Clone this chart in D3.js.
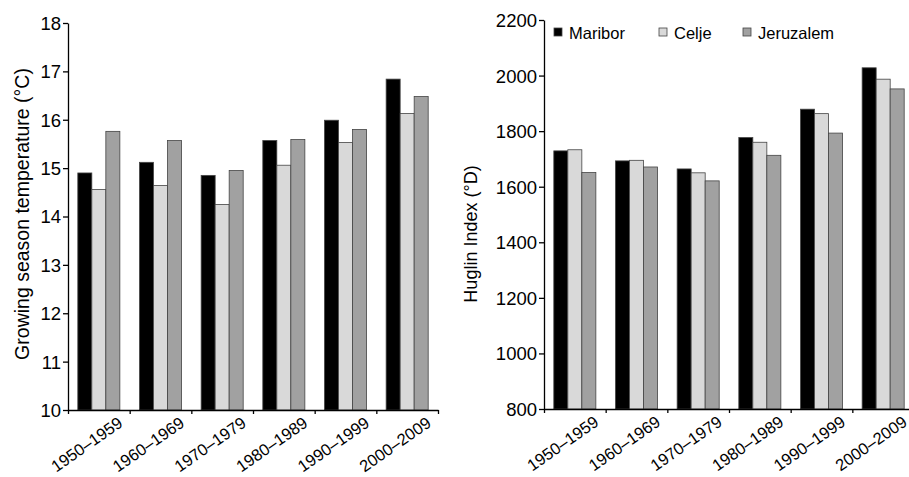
<!DOCTYPE html>
<html>
<head>
<meta charset="utf-8">
<script src="https://cdn.jsdelivr.net/npm/d3@7.9.0/dist/d3.min.js"></script>
<style>
  html, body { margin: 0; padding: 0; background: #fff; }
  svg { display: block; font-family: "Liberation Sans", Arial, sans-serif; }
</style>
</head>
<body>
<svg id="viz" width="909" height="477"></svg>
<script>
const decades = ["1950–1959", "1960–1969", "1970–1979", "1980–1989", "1990–1999", "2000–2009"];
const stations = ["Maribor", "Celje", "Jeruzalem"];
const colors = ["#000000", "#d9d9d9", "#a1a1a1"];

// growing season temperature (°C)
const tempMaribor = [14.90, 15.12, 14.85, 15.57, 15.99, 16.84];
const tempCelje = [14.56, 14.64, 14.25, 15.06, 15.53, 16.13];
const tempJeruzalem = [15.76, 15.57, 14.95, 15.59, 15.80, 16.48];

// Huglin index (°D)
const huglinMaribor = [1729, 1693, 1664, 1777, 1879, 2028];
const huglinCelje = [1733, 1695, 1650, 1760, 1863, 1987];
const huglinJeruzalem = [1651, 1671, 1621, 1713, 1793, 1952];

const tempTicks = d3.range(10, 18.01, 1);
const huglinTicks = d3.range(800, 2201, 200);

const svg = d3.select("#viz");

function panel(opts) {
  const { left, top, bottom, width, domain, ticks, series, title, titleX, titleY, titleSize } = opts;
  const g = svg.append("g");

  const x0 = d3.scaleBand().domain(decades).range([left, left + width]).padding(0);
  const x1 = d3.scaleBand().domain(stations).range([0, x0.bandwidth()]).paddingOuter(0.7).paddingInner(0);
  const y = d3.scaleLinear().domain(domain).range([bottom, top]);

  // bars
  const rows = decades.map((d, i) => ({ decade: d, vals: series.map((s) => s[i]) }));
  g.append("g")
    .selectAll("g")
    .data(rows)
    .join("g")
    .attr("transform", (d) => `translate(${x0(d.decade)},0)`)
    .selectAll("rect")
    .data((d) => d.vals.map((v, k) => ({ k, v })))
    .join("rect")
    .attr("x", (d) => x1(stations[d.k]))
    .attr("width", x1.bandwidth())
    .attr("y", (d) => y(d.v))
    .attr("height", (d) => bottom - y(d.v))
    .attr("fill", (d) => colors[d.k])
    .attr("stroke", "#444")
    .attr("stroke-width", 0.8);

  // y axis
  const ya = g.append("g")
    .attr("transform", `translate(${left},0)`)
    .call(d3.axisLeft(y).tickValues(ticks).tickFormat(d3.format("d"))
      .tickSize(5).tickSizeOuter(0).tickPadding(2));
  ya.attr("font-family", null).attr("font-size", null);
  ya.selectAll("text").attr("font-size", 18.5).attr("fill", "#000").attr("dy", "0.35em");
  ya.selectAll("line, path").attr("stroke", "#000").attr("stroke-width", 1.3);

  // x axis, ticks sit on the band edges
  const edge = d3.scaleLinear().domain([0, decades.length]).range([left, left + width]);
  const xa = g.append("g")
    .attr("transform", `translate(0,${bottom})`)
    .call(d3.axisBottom(edge).tickValues(d3.range(0, decades.length + 1))
      .tickSize(4).tickSizeOuter(0).tickFormat(""));
  xa.selectAll("line, path").attr("stroke", "#000").attr("stroke-width", 1.3);

  g.append("g")
    .selectAll("text")
    .data(decades)
    .join("text")
    .attr("transform", (d) => `translate(${x0(d) + x0.bandwidth() / 2 + 25},${bottom + 15.5}) rotate(-35)`)
    .attr("text-anchor", "end")
    .attr("font-size", 16.5)
    .text((d) => d);

  g.append("text")
    .attr("transform", `translate(${titleX},${titleY}) rotate(-90)`)
    .attr("text-anchor", "middle")
    .attr("font-size", titleSize)
    .text(title);

  return g;
}

panel({
  left: 68, top: 23, bottom: 410, width: 370,
  domain: [10, 18], ticks: tempTicks,
  series: [tempMaribor, tempCelje, tempJeruzalem],
  title: "Growing season temperature (°C)", titleX: 29, titleY: 214, titleSize: 19.5,
});

panel({
  left: 544, top: 20, bottom: 409, width: 370,
  domain: [800, 2200], ticks: huglinTicks,
  series: [huglinMaribor, huglinCelje, huglinJeruzalem],
  title: "Huglin Index (°D)", titleX: 477, titleY: 234, titleSize: 18,
});

// legend
const legendX = [554, 659, 743];
const legend = svg.append("g")
  .selectAll("g")
  .data(stations)
  .join("g")
  .attr("transform", (d, i) => `translate(${legendX[i]},28)`);
legend.append("rect")
  .attr("width", 8).attr("height", 8)
  .attr("fill", (d, i) => colors[i])
  .attr("stroke", "#444").attr("stroke-width", 0.8);
legend.append("text")
  .attr("x", 15).attr("y", 10.5)
  .attr("font-size", 16.5)
  .text((d) => d);
</script>
</body>
</html>
